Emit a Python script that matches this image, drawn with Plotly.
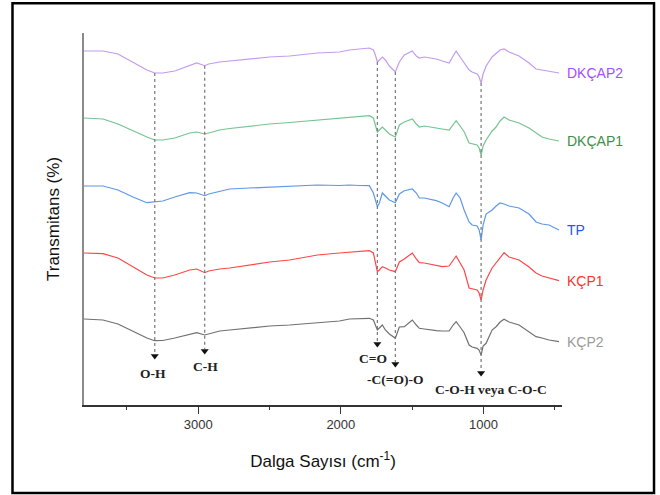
import numpy as np
import plotly.graph_objects as go

# Wavenumbers (cm^-1) shared by all spectra
wn = [3800, 3667, 3562, 3457, 3359, 3304, 3248, 3164, 3059, 3010, 2954, 2926, 2849, 2779,
      2639, 2499, 2359, 2164, 2010, 1940, 1870, 1800, 1772, 1758, 1744, 1730, 1709, 1688,
      1660, 1618, 1590, 1555, 1499, 1471, 1450, 1415, 1380, 1331, 1289, 1241, 1213, 1192,
      1164, 1136, 1101, 1080, 1045, 1031, 1017, 1003, 982, 940, 912, 884, 856, 821, 751,
      681, 632, 590, 541, 471]

# Transmittance (arbitrary offset units)
dkcap2 = [354, 354, 351, 343, 335, 332, 332, 334, 340, 342, 339.3, 341, 343, 344,
          346, 348, 349, 352, 353, 355, 356, 357, 355, 350, 343, 345, 348, 345,
          339, 333, 343, 350, 354, 349, 347, 348, 347, 346, 344, 342, 349, 354,
          348, 342, 335, 333, 331, 328, 322, 331, 339, 348, 352, 355, 356, 353, 349,
          342, 336, 335, 334, 332]
dkcap1 = [287, 286, 281, 274, 268, 265, 265, 267, 272, 273, 271, 272, 275, 276.5,
          279, 281, 282.5, 285, 286.5, 288, 288.5, 289.3, 287, 281, 273, 275, 278, 275,
          271, 268, 280, 283, 286, 281, 278, 279, 278, 277, 276, 275, 280, 284.3,
          279, 273.3, 262, 261, 260, 257, 250, 259, 265, 274, 278, 284, 288, 285, 282,
          277, 272, 268, 266, 264]
tp = [219, 219, 215, 208, 202.3, 203, 204, 208, 212.3, 212, 209.3, 211, 214, 216,
      217, 218, 219, 220, 219.5, 220, 219.5, 219.3, 212, 205, 198.3, 202, 212, 209,
      205, 202.3, 211, 214.3, 216, 212, 207, 207, 206, 204.3, 202, 198.3, 207, 212,
      207, 195, 183, 180, 179, 175, 165, 180, 191, 195, 199, 202, 201, 199, 197,
      191, 183, 181, 180, 175]
kcp1 = [152, 151.3, 147, 138, 130, 127, 127, 130, 135, 136, 132.3, 134, 136, 137,
        140, 143, 145, 150, 152, 153, 153.5, 154.3, 152, 143, 133.3, 135, 138.3, 137,
        135, 133.3, 143, 146, 152, 146, 142.3, 142, 141, 140, 138.3, 139, 145, 149,
        142, 135, 117, 116, 115, 112, 105, 115, 125, 137, 142, 148, 152.3, 148, 145,
        138, 132, 129, 127, 124.3]
kcp2 = [86, 85, 81, 74, 67, 64.3, 64.5, 67, 71, 72.3, 70, 71, 74, 75,
        77, 79, 80, 82, 84, 86, 86, 86.7, 85, 80, 75, 77, 80, 75,
        71, 66.7, 78, 78.3, 85, 80, 76.7, 76, 75, 74.3, 74, 74, 80, 83.3,
        78, 72.3, 60, 58, 56.7, 55, 50, 59, 61.7, 75, 78.3, 83, 85.7, 83, 80,
        73, 68.3, 67, 65, 63.3]

series_names = ["DKÇAP2", "DKÇAP1", "TP", "KÇP1", "KÇP2"]
series_vals = [dkcap2, dkcap1, tp, kcp1, kcp2]
line_colors = ["#c49af0", "#74c490", "#5c98e6", "#ff4646", "#707070"]
label_colors = ["#a64dff", "#3d8f4a", "#2e52ee", "#ff3030", "#9a9a9a"]

# Band assignments
peak_wn = [3304, 2954, 1744, 1618, 1017]
peak_labels = ["O-H", "C-H", "C=O", "-C(=O)-O", "C-O-H veya C-O-C"]
arrow_tip = [45, 50, 57, 37, 28]
label_y = [32, 39, 47, 26, 16]
label_x = [3317, 2947, 1772, 1618, 947]

fig = go.Figure()
for name, vals, col in zip(series_names, series_vals, line_colors):
    fig.add_trace(go.Scatter(x=wn, y=vals, mode="lines", name=name,
                             line=dict(color=col, width=1.2), showlegend=False))

wn_arr = np.array(wn[::-1])
top_arr = np.array(dkcap2[::-1])
for p, tip in zip(peak_wn, arrow_tip):
    top = float(np.interp(p, wn_arr, top_arr))
    fig.add_trace(go.Scatter(x=[p, p], y=[top, tip + 6], mode="lines",
                             line=dict(color="#777777", width=1.2, dash="dot"),
                             showlegend=False, hoverinfo="skip"))
    fig.add_trace(go.Scatter(x=[p], y=[tip + 4], mode="markers",
                             marker=dict(symbol="triangle-down", size=7, color="#111111"),
                             showlegend=False, hoverinfo="skip"))

for t, lx, ly in zip(peak_labels, label_x, label_y):
    fig.add_annotation(x=lx, y=ly, xref="x", yref="y", text="<b>" + t + "</b>",
                       showarrow=False, xanchor="center", yanchor="middle",
                       font=dict(family="Liberation Serif", size=13.5, color="#222222"))

for name, vals, col in zip(series_names, series_vals, label_colors):
    fig.add_annotation(x=wn[-1], y=vals[-1], xref="x", yref="y", text=name,
                       showarrow=False, xanchor="left", yanchor="middle", xshift=6,
                       font=dict(family="Liberation Sans", size=14, color=col))

# outer frame
fig.add_shape(type="rect", xref="paper", yref="paper",
              x0=-0.1496, x1=1.1925, y0=-0.2366, y1=1.080,
              line=dict(color="black", width=2.5), fillcolor="rgba(0,0,0,0)")

fig.update_layout(
    width=660, height=495,
    margin=dict(l=84, r=98, t=33, b=90, autoexpand=False),
    paper_bgcolor="white", plot_bgcolor="white",
    font=dict(family="Liberation Sans", color="#222222"),
    xaxis=dict(range=[3800, 450], tickvals=[3000, 2000, 1000],
               ticktext=["3000", "2000", "1000"], automargin=False,
               ticks="outside", ticklen=7, tickwidth=1.2, tickcolor="#333333",
               minor=dict(tickvals=[3500, 2500, 1500, 500], ticks="outside",
                          ticklen=3, tickwidth=1.2, tickcolor="#333333"),
               showline=True, linecolor="#333333", linewidth=1.5,
               showgrid=False, zeroline=False,
               tickfont=dict(size=13, color="#333333"),
               title=dict(text="Dalga Sayısı (cm<sup>-1</sup>)",
                          font=dict(size=17, color="#111111"), standoff=24)),
    yaxis=dict(range=[0, 372], showticklabels=False, ticks="", automargin=False,
               showline=True, linecolor="#8a8a8a", linewidth=2,
               showgrid=False, zeroline=False,
               title=dict(text="Transmitans (%)",
                          font=dict(size=17, color="#111111"), standoff=18)),
)

fig.write_html("out.html", config={"displayModeBar": False},
               post_script="document.body.style.margin='0';")
